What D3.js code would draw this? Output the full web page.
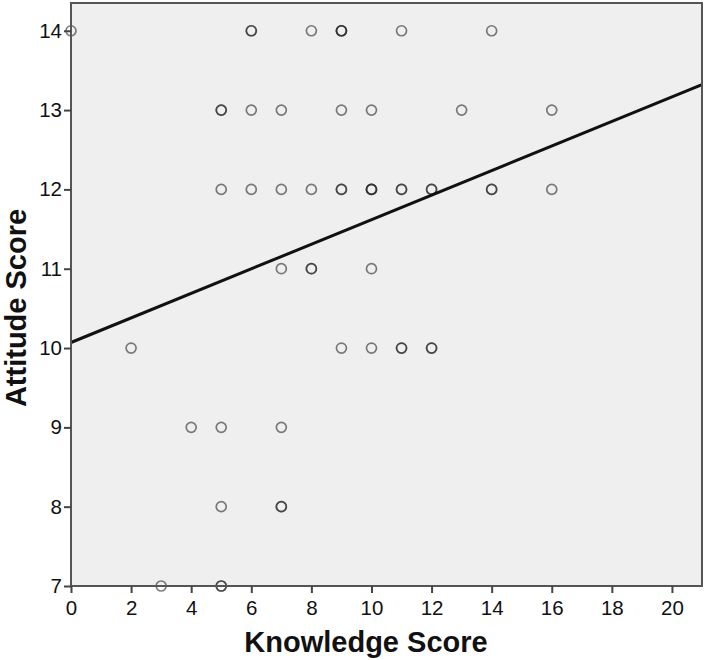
<!DOCTYPE html>
<html lang="en">
<head>
<meta charset="UTF-8">
<title>Attitude vs Knowledge</title>
<script src="https://d3js.org/d3.v7.min.js"></script>
<style>
  body { margin: 0; background: #fff; }
  svg { display: block; font-family: "Liberation Sans", Arial, sans-serif; }
</style>
</head>
<body>
<div id="chart"></div>
<script>
// observed scores (duplicates kept, they show as darker rings)
var knowledge = [0, 6, 6, 8, 9, 9, 9, 11, 14,
                 5, 5, 6, 7, 9, 10, 13, 16,
                 5, 6, 7, 8, 9, 9, 10, 10, 10, 11, 11, 12, 12, 14, 14, 16,
                 7, 8, 8, 10,
                 2, 9, 10, 11, 11, 12, 12,
                 4, 5, 7,
                 5, 7, 7,
                 3, 5, 5];
var attitude  = [14, 14, 14, 14, 14, 14, 14, 14, 14,
                 13, 13, 13, 13, 13, 13, 13, 13,
                 12, 12, 12, 12, 12, 12, 12, 12, 12, 12, 12, 12, 12, 12, 12, 12,
                 11, 11, 11, 11,
                 10, 10, 10, 10, 10, 10, 10,
                 9, 9, 9,
                 8, 8, 8,
                 7, 7, 7];
var xTicks = [0, 2, 4, 6, 8, 10, 12, 14, 16, 18, 20];
var yTicks = [7, 8, 9, 10, 11, 12, 13, 14];
var fitLine = [[0, 10.07], [21, 13.32]];

var W = 709, H = 660;
var m = {left: 71, right: 7, top: 3, bottom: 74};

var svg = d3.select("#chart").append("svg")
    .attr("width", W).attr("height", H);

var x = d3.scaleLinear().domain([0, 21]).range([m.left, W - m.right]);
var y = d3.scaleLinear().domain([7, 14.35]).range([H - m.bottom, m.top]);

// plot background
svg.append("rect")
    .attr("x", x(0)).attr("y", y(14.35))
    .attr("width", x(21) - x(0)).attr("height", y(7) - y(14.35))
    .attr("fill", "#efefef");

var pts = knowledge.map(function(k, i) { return {k: k, a: attitude[i]}; });

svg.append("g").selectAll("circle")
    .data(pts)
    .enter().append("circle")
    .attr("cx", function(d) { return x(d.k); })
    .attr("cy", function(d) { return y(d.a); })
    .attr("r", 5)
    .attr("fill", "none")
    .attr("stroke", "#222")
    .attr("stroke-opacity", 0.58)
    .attr("stroke-width", 1.7);

svg.append("path")
    .datum(fitLine)
    .attr("d", d3.line().x(function(d) { return x(d[0]); }).y(function(d) { return y(d[1]); }))
    .attr("stroke", "#111")
    .attr("stroke-width", 3)
    .attr("fill", "none");

// frame
svg.append("rect")
    .attr("x", x(0)).attr("y", y(14.35))
    .attr("width", x(21) - x(0)).attr("height", y(7) - y(14.35))
    .attr("fill", "none")
    .attr("stroke", "#555")
    .attr("stroke-width", 2);

var xAxis = svg.append("g")
    .attr("transform", "translate(0," + y(7) + ")")
    .call(d3.axisBottom(x).tickValues(xTicks).tickSize(7).tickPadding(7).tickFormat(d3.format("d")));
var yAxis = svg.append("g")
    .attr("transform", "translate(" + x(0) + ",0)")
    .call(d3.axisLeft(y).tickValues(yTicks).tickSize(7).tickPadding(2).tickFormat(d3.format("d")));

[xAxis, yAxis].forEach(function(g) {
  g.select(".domain").remove();
  g.selectAll(".tick line").attr("stroke", "#444").attr("stroke-width", 2);
  g.selectAll(".tick text").attr("fill", "#111").style("font-size", "20.5px");
});

svg.append("text")
    .attr("x", 366).attr("y", 652)
    .attr("text-anchor", "middle")
    .style("font-size", "29px").style("font-weight", "bold")
    .attr("fill", "#111")
    .text("Knowledge Score");

svg.append("text")
    .attr("transform", "translate(26,308) rotate(-90)")
    .attr("text-anchor", "middle")
    .style("font-size", "29px").style("font-weight", "bold")
    .attr("fill", "#111")
    .text("Attitude Score");
</script>
</body>
</html>
